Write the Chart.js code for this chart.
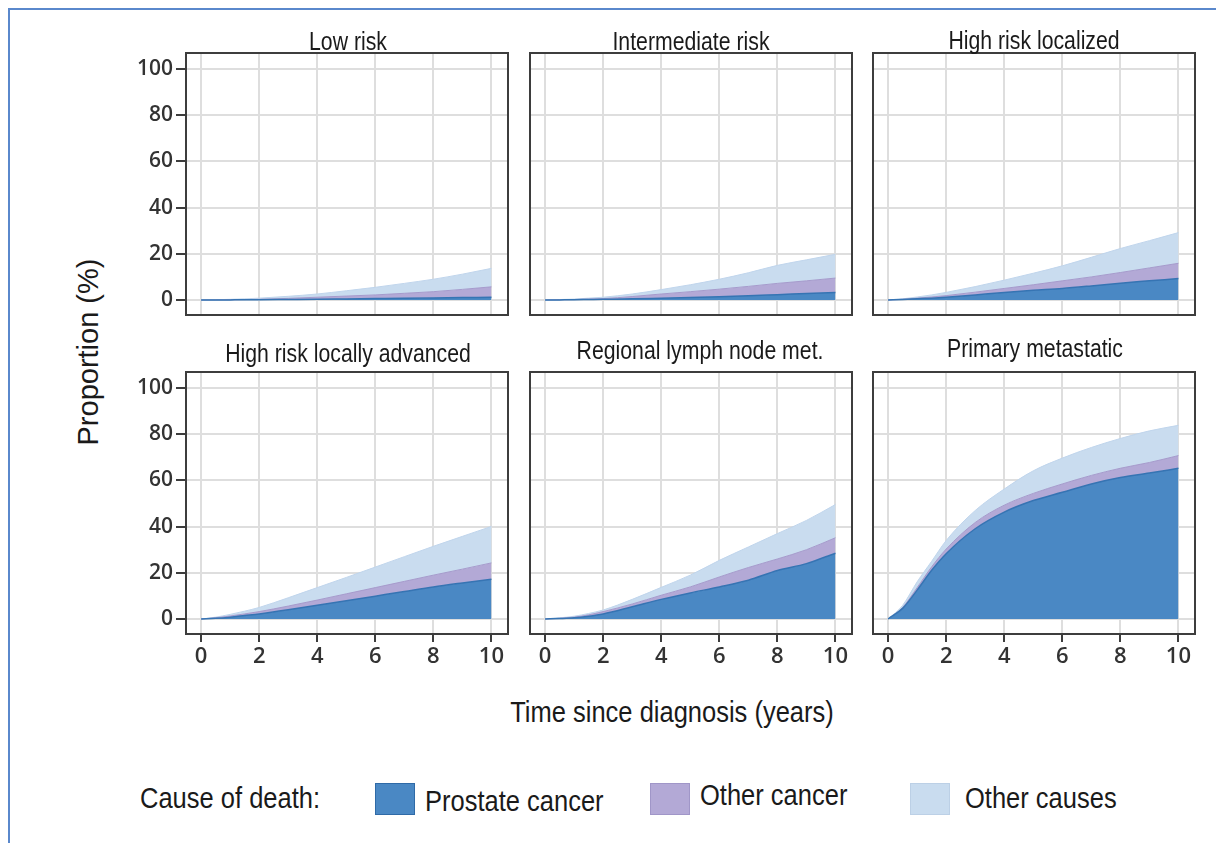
<!DOCTYPE html>
<html>
<head>
<meta charset="utf-8">
<script src="https://cdn.jsdelivr.net/npm/chart.js@4.4.1/dist/chart.umd.min.js"></script>
<style>
body { margin:0; background:#fff; width:1216px; height:843px; overflow:hidden; position:relative; }
#frame { position:absolute; left:8px; top:8px; width:1300px; height:900px; border-top:2px solid #5a88cc; border-left:2px solid #5a88cc; }
canvas.panel { position:absolute; }
.txt { position:absolute; white-space:nowrap; color:#1a1a1a; font-family:"Liberation Sans",Arial,sans-serif; }
#ylab { left:88px; top:352px; font-size:29px; transform:translate(-50%,-50%) rotate(-90deg); }
#xlab { left:672px; top:712px; font-size:30px; transform:translate(-50%,-50%) scaleX(0.85); }
.lg { top:798px; font-size:30px; transform-origin:left center; transform:translateY(-50%) scaleX(0.85); }
.sw { position:absolute; width:38px; height:30px; top:783px; }
</style>
</head>
<body>
<div id="frame"></div>
<div id="ylab" class="txt">Proportion (%)</div>
<div id="xlab" class="txt">Time since diagnosis (years)</div>
<div class="txt lg" style="left:140px">Cause of death:</div>
<div class="sw" style="left:375px;background:#4a88c4;border:1px solid #2f6aa7"></div>
<div class="txt lg" style="left:425px;top:801px">Prostate cancer</div>
<div class="sw" style="left:650px;background:#b3a9d6;border:1px solid #a096c8"></div>
<div class="txt lg" style="left:700px;top:795px">Other cancer</div>
<div class="sw" style="left:910px;background:#c9dcef;border:1px solid #bcd0e6"></div>
<div class="txt lg" style="left:965px">Other causes</div>

<script>
// time axis (years since diagnosis)
var years = [0, 0.5, 1, 1.5, 2, 3, 4, 5, 6, 7, 8, 9, 10];
var xTicks = [0, 2, 4, 6, 8, 10];
var yTicks = [0, 20, 40, 60, 80, 100];
var causes = ['Prostate cancer', 'Other cancer', 'Other causes'];
var panelNames = ['Low risk', 'Intermediate risk', 'High risk localized',
                  'High risk locally advanced', 'Regional lymph node met.', 'Primary metastatic'];

// proportion (%) dying of each cause
var lowProstate    = [0, 0.02, 0.05, 0.08, 0.1, 0.2, 0.3, 0.45, 0.6, 0.75, 0.9, 1.05, 1.2];
var lowOtherCancer = [0, 0.03, 0.05, 0.12, 0.2, 0.5, 0.9, 1.25, 1.6, 2.15, 2.7, 3.55, 4.5];
var lowOtherCauses = [0, 0.05, 0.2, 0.3, 0.5, 0.9, 1.4, 2.3, 3.3, 4.3, 5.4, 6.6, 8.0];

var intProstate    = [0, 0.05, 0.1, 0.2, 0.3, 0.5, 0.8, 1.1, 1.4, 1.8, 2.3, 2.8, 3.3];
var intOtherCancer = [0, 0.05, 0.1, 0.2, 0.3, 1.0, 1.8, 2.5, 3.3, 4.1, 4.9, 5.5, 6.2];
var intOtherCauses = [0, 0.1, 0.2, 0.4, 0.6, 1.1, 1.9, 3.0, 4.3, 5.9, 7.8, 9.1, 10.3];

var hrlProstate    = [0, 0.2, 0.5, 0.8, 1.2, 2.2, 3.3, 4.2, 5.0, 6.1, 7.3, 8.3, 9.3];
var hrlOtherCancer = [0, 0.1, 0.3, 0.5, 0.7, 1.2, 1.7, 2.4, 3.3, 3.9, 4.6, 5.6, 6.6];
var hrlOtherCauses = [0, 0.2, 0.5, 0.9, 1.4, 2.4, 3.6, 5.0, 6.5, 8.5, 10.4, 11.8, 13.3];

var hraProstate    = [0, 0.3, 0.8, 1.5, 2.2, 4.0, 6.0, 7.9, 9.9, 11.9, 13.9, 15.6, 17.2];
var hraOtherCancer = [0, 0.2, 0.5, 0.7, 1.0, 1.6, 2.2, 3.0, 3.7, 4.4, 5.1, 6.0, 7.1];
var hraOtherCauses = [0, 0.3, 0.7, 1.2, 1.8, 3.6, 5.4, 7.1, 8.9, 10.7, 12.5, 14.2, 15.8];

var rlnProstate    = [0, 0.2, 0.5, 1.2, 2.2, 5.3, 8.5, 11.3, 13.9, 16.8, 21.0, 24.0, 28.5];
var rlnOtherCancer = [0, 0.1, 0.3, 0.6, 1.0, 1.2, 1.8, 2.6, 4.3, 5.5, 5.0, 6.0, 6.7];
var rlnOtherCauses = [0, 0.2, 0.4, 0.6, 0.7, 2.0, 3.4, 5.1, 7.2, 8.9, 11.0, 12.7, 14.4];

var metProstate    = [0, 4.6, 12.5, 21.1, 28.3, 39.1, 46.3, 51.3, 54.9, 58.5, 61.3, 63.2, 65.3];
var metOtherCancer = [0, 0.4, 1.1, 1.5, 2.0, 2.7, 3.0, 3.1, 3.6, 3.7, 4.0, 4.6, 5.5];
var metOtherCauses = [0, 0.9, 2.5, 2.4, 3.7, 5.2, 7.0, 9.8, 11.2, 12.1, 12.9, 13.7, 13.1];

var panelData = [
  [lowProstate, lowOtherCancer, lowOtherCauses],
  [intProstate, intOtherCancer, intOtherCauses],
  [hrlProstate, hrlOtherCancer, hrlOtherCauses],
  [hraProstate, hraOtherCancer, hraOtherCauses],
  [rlnProstate, rlnOtherCancer, rlnOtherCauses],
  [metProstate, metOtherCancer, metOtherCauses]
];

var fills = ['#4a88c4', '#b3a9d6', '#c9dcef'];
var edges = ['#3674b3', '#a59bcc', '#c0d5ec'];

// layout of the plot boxes
var boxLeft = [186, 530, 873];
var boxTop = [53, 372];
var boxW = 322, boxH = 262;
var PAD_L = 64, PAD_T = 40, PAD_B = 46, PAD_R = 4;
var titleGap = [3, 3, 4, 10, 13, 15];
var titleDx = [1, 0, 0, 1, 9, 1];

var boxAndTitle = {
  id: 'boxAndTitle',
  afterDraw: function(chart, args, opts) {
    var ctx = chart.ctx, a = chart.chartArea;
    ctx.save();
    ctx.strokeStyle = '#3d3d3d';
    ctx.lineWidth = 2;
    ctx.strokeRect(a.left, a.top, a.right - a.left, a.bottom - a.top);
    // condensed panel title, centred over the plot box
    ctx.translate((a.left + a.right) / 2 + opts.dx, a.top - opts.gap);
    ctx.scale(0.85, 1);
    ctx.font = '25px "Liberation Sans", Arial, sans-serif';
    ctx.fillStyle = '#1a1a1a';
    ctx.textAlign = 'center';
    ctx.textBaseline = 'alphabetic';
    ctx.fillText(opts.text, 0, 0);
    ctx.restore();
  }
};

panelNames.forEach(function(name, i) {
  var col = i % 3, row = Math.floor(i / 3);
  var cv = document.createElement('canvas');
  cv.className = 'panel';
  cv.width = boxW + PAD_L + PAD_R;
  cv.height = boxH + PAD_T + PAD_B;
  cv.style.left = (boxLeft[col] - PAD_L) + 'px';
  cv.style.top = (boxTop[row] - PAD_T) + 'px';
  document.body.appendChild(cv);

  var datasets = causes.map(function(c, k) {
    return {
      label: c,
      data: years.map(function(t, j) { return {x: t, y: panelData[i][k][j]}; }),
      backgroundColor: fills[k],
      borderColor: edges[k],
      borderWidth: k == 0 ? 1.5 : 1,
      pointRadius: 0,
      fill: k == 0 ? 'origin' : '-1',
      cubicInterpolationMode: 'monotone'
    };
  });

  new Chart(cv, {
    type: 'line',
    data: { datasets: datasets },
    plugins: [boxAndTitle],
    options: {
      responsive: false,
      animation: false,
      events: [],
      layout: { padding: { top: PAD_T, right: PAD_R, left: 0, bottom: 0 } },
      plugins: {
        legend: { display: false },
        tooltip: { enabled: false },
        boxAndTitle: { text: name, gap: titleGap[i], dx: titleDx[i] }
      },
      scales: {
        x: {
          type: 'linear',
          min: -0.52, max: 10.57,
          afterBuildTicks: function(s) { s.ticks = xTicks.map(function(v) { return {value: v}; }); },
          afterFit: function(s) { s.height = PAD_B; },
          border: { display: false },
          grid: { color: '#dedede', lineWidth: 2, drawTicks: row == 1, tickLength: 8, tickColor: '#3d3d3d', tickWidth: 2 },
          ticks: { display: row == 1, color: '#333', padding: 2, maxRotation: 0,
                   font: { family: '"Open Sans", sans-serif', size: 22, weight: '600' } }
        },
        y: {
          type: 'linear',
          stacked: true,
          min: -6.5, max: 107,
          afterBuildTicks: function(s) { s.ticks = yTicks.map(function(v) { return {value: v}; }); },
          afterFit: function(s) { s.width = PAD_L; },
          border: { display: false },
          grid: { color: '#dedede', lineWidth: 2, drawTicks: col == 0, tickLength: 10, tickColor: '#3d3d3d', tickWidth: 2 },
          ticks: { display: col == 0, color: '#333', padding: 3,
                   font: { family: '"Open Sans", sans-serif', size: 21, weight: '600' } }
        }
      }
    }
  });
});
</script>
</body>
</html>
